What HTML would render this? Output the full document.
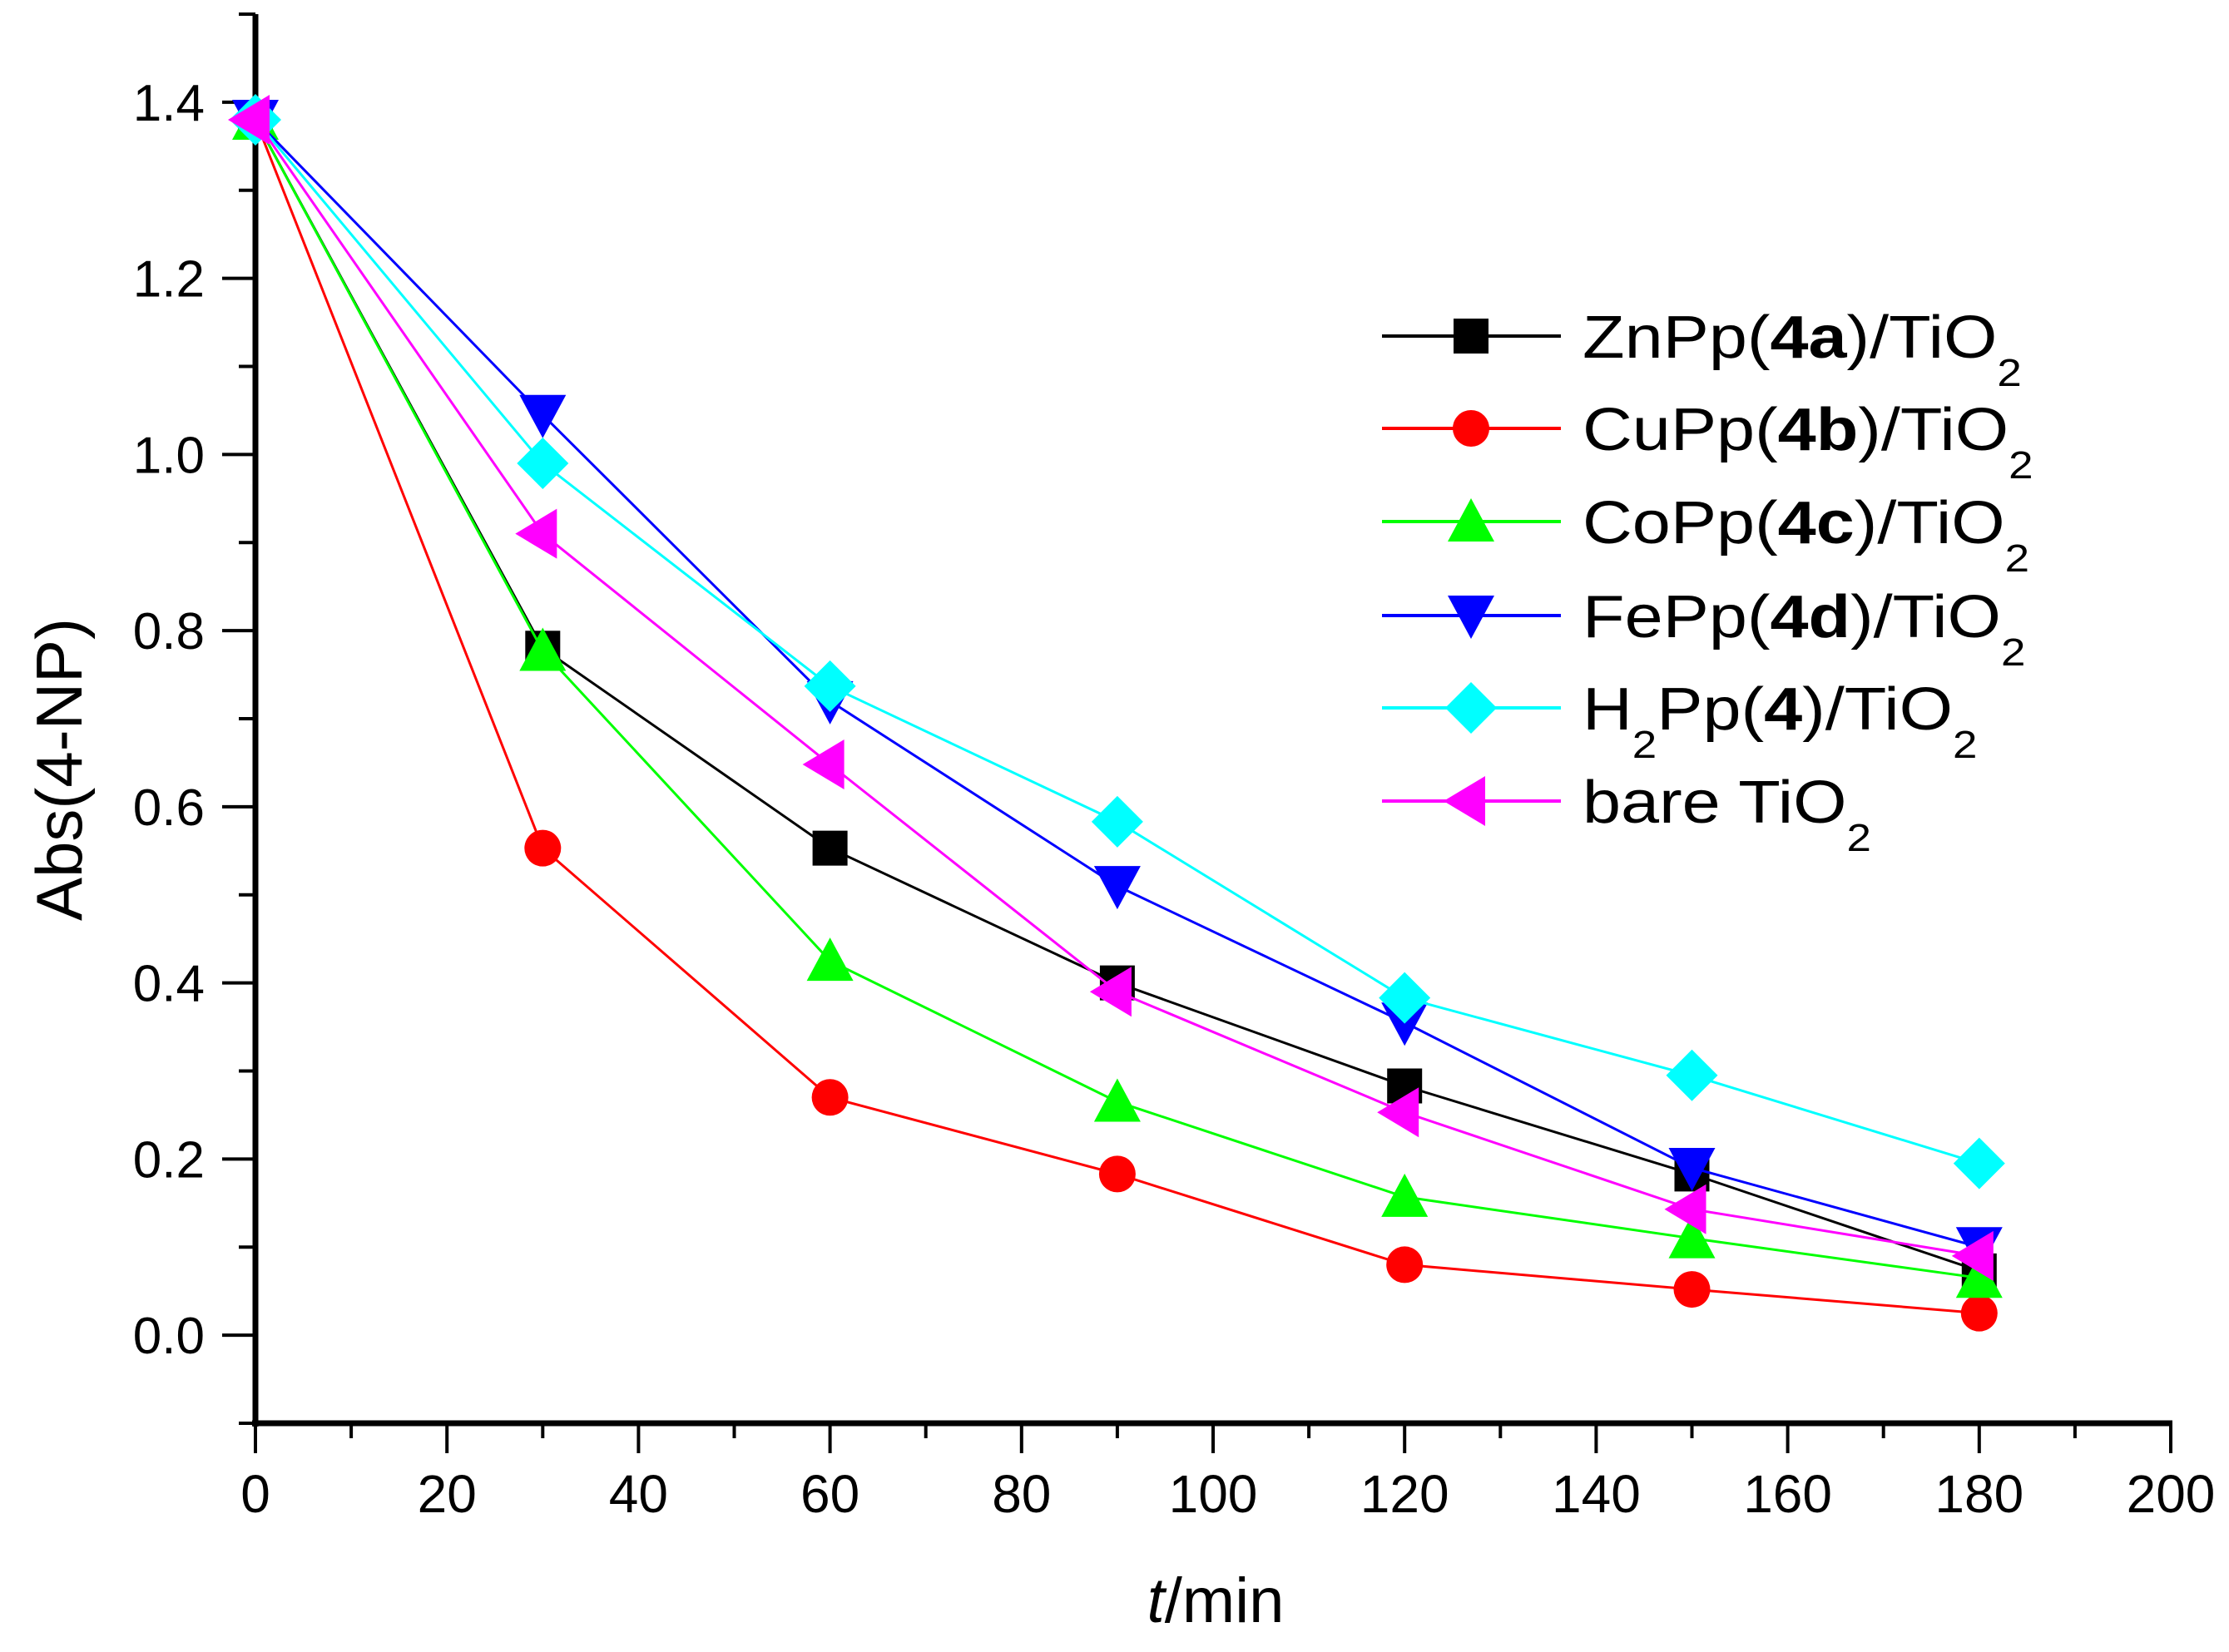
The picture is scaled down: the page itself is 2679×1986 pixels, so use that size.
<!DOCTYPE html>
<html><head><meta charset="utf-8"><style>
html,body{margin:0;padding:0;background:#fff;}
svg{display:block;font-family:"Liberation Sans",sans-serif;}
</style></head><body>
<svg id="chart" width="2679" height="1986" viewBox="0 0 2679 1986" xmlns="http://www.w3.org/2000/svg">
<rect width="2679" height="1986" fill="#fff"/>
<g id="axes"></g>
<g id="series"></g>
<g id="legend"></g>
<text x="0" y="0" font-size="78" text-anchor="middle" transform="translate(98,925) rotate(-90)">Abs(4-NP)</text>
<text x="1461" y="1950" font-size="76" text-anchor="middle"><tspan font-style="italic">t</tspan>/min</text>
</svg>
<script>
const times = [0, 30, 60, 90, 120, 150, 180];
const znValues = [1.38, 0.78, 0.553, 0.40, 0.283, 0.183, 0.073];
const cuValues = [1.38, 0.553, 0.27, 0.183, 0.08, 0.052, 0.025];
const coValues = [1.38, 0.777, 0.425, 0.265, 0.157, 0.11, 0.065];
const feValues = [1.38, 1.045, 0.72, 0.51, 0.355, 0.19, 0.10];
const h2Values = [1.38, 0.99, 0.737, 0.583, 0.383, 0.295, 0.195];
const bareValues = [1.38, 0.91, 0.648, 0.39, 0.253, 0.143, 0.09];
const xTickLabels = ["0","20","40","60","80","100","120","140","160","180","200"];
const yTickLabels = ["0.0","0.2","0.4","0.6","0.8","1.0","1.2","1.4"];

const NS = "http://www.w3.org/2000/svg";
const X0 = 307, X1 = 2609, Y0 = 1711, Y1 = 17;
const xMin = 0, xMax = 200, yMin = -0.1, yMax = 1.5;
function sx(v){ return X0 + (v - xMin) / (xMax - xMin) * (X1 - X0); }
function sy(v){ return Y0 - (v - yMin) / (yMax - yMin) * (Y0 - Y1); }
function mk(tag, attrs, parent){
  const e = document.createElementNS(NS, tag);
  for (const k in attrs) e.setAttribute(k, attrs[k]);
  parent.appendChild(e);
  return e;
}
const axes = document.getElementById('axes');
let el;
el = mk('line', {x1:X0, y1:Y1, x2:X0, y2:Y0+4, stroke:'#000','stroke-width':7}, axes);


el = mk('line', {x1:X0-4, y1:Y0, x2:X1+2, y2:Y0, stroke:'#000','stroke-width':7}, axes);



for (let v = 0; v <= 200; v += 10) {
  const major = v % 20 === 0;
  el = mk('line', {x1:sx(v), y1:Y0, x2:sx(v), y2:Y0 + (major ? 36 : 18), stroke:'#000','stroke-width':4}, axes);
  
  
}
xTickLabels.forEach(function(t){
  el = mk('text', {x:sx(parseFloat(t)), y:1818, 'font-size':64, 'text-anchor':'middle'}, axes);
  el.textContent = t;
  
  
});
for (let i = -1; i <= 15; i++) {
  const v = i / 10;
  const major = i % 2 === 0;
  el = mk('line', {x1:X0 - (major ? 40 : 20), y1:sy(v), x2:X0, y2:sy(v), stroke:'#000','stroke-width':4}, axes);
  
  
}
yTickLabels.forEach(function(t){
  el = mk('text', {x:246, y:sy(parseFloat(t)) + 22, 'font-size':62, 'text-anchor':'end'}, axes);
  el.textContent = t;
  
  
});

function marker(shape, cx, cy, color, parent){
  let m;
  if (shape === 'square') m = mk('rect', {x:cx-21, y:cy-21, width:42, height:42, fill:color}, parent);
  else if (shape === 'circle') m = mk('ellipse', {cx:cx, cy:cy, rx:22, ry:22, fill:color}, parent);
  else if (shape === 'up') m = mk('polygon', {points:(cx-28)+','+(cy+24)+' '+(cx+28)+','+(cy+24)+' '+cx+','+(cy-28), fill:color}, parent);
  else if (shape === 'down') m = mk('polygon', {points:(cx-28)+','+(cy-24)+' '+(cx+28)+','+(cy-24)+' '+cx+','+(cy+28), fill:color}, parent);
  else if (shape === 'diamond') m = mk('polygon', {points:cx+','+(cy-31)+' '+(cx+31)+','+cy+' '+cx+','+(cy+31)+' '+(cx-31)+','+cy, fill:color}, parent);
  else m = mk('polygon', {points:(cx+17)+','+(cy-30)+' '+(cx+17)+','+(cy+30)+' '+(cx-33)+','+cy, fill:color}, parent);
  return m;
}

const seriesList = [
  {name:'zn', vals:znValues, color:'#000000', shape:'square', label:['ZnPp(','4a',')/TiO']},
  {name:'cu', vals:cuValues, color:'#ff0000', shape:'circle', label:['CuPp(','4b',')/TiO']},
  {name:'co', vals:coValues, color:'#00ff00', shape:'up', label:['CoPp(','4c',')/TiO']},
  {name:'fe', vals:feValues, color:'#0000ff', shape:'down', label:['FePp(','4d',')/TiO']},
  {name:'h2', vals:h2Values, color:'#00ffff', shape:'diamond', label:null},
  {name:'bare', vals:bareValues, color:'#ff00ff', shape:'left', label:null}
];
const sg = document.getElementById('series');
seriesList.forEach(function(s){
  const g = mk('g', {}, sg);
  
  
  const pts = times.map(function(t, i){ return sx(t) + ',' + sy(s.vals[i]); }).join(' ');
  el = mk('polyline', {points:pts, fill:'none', stroke:s.color, 'stroke-width':3}, g);
  
  
  times.forEach(function(t, i){
    el = marker(s.shape, sx(t), sy(s.vals[i]), s.color, g);
    
    
  });
});

const lg = document.getElementById('legend');


const rowsY = [404, 515, 627, 740, 851, 963];
seriesList.forEach(function(s, i){
  const y = rowsY[i];
  const g = mk('g', {}, lg);
  
  
  mk('line', {x1:1661, y1:y, x2:1876, y2:y, stroke:s.color, 'stroke-width':4}, g);
  marker(s.shape, 1768, y, s.color, g);
  const t = mk('text', {x:0, y:0, 'font-size':72, transform:'translate(1902,' + (y + 26) + ') scale(1.15,1)'}, g);
  
  
  function ts(txt, attrs){ const e = mk('tspan', attrs || {}, t); e.textContent = txt; return e; }
  if (s.label) {
    ts(s.label[0]);
    ts(s.label[1], {'font-weight':'bold'});
    ts(s.label[2]);
    ts('2', {'font-size':46, dy:34});
  } else if (s.name === 'h2') {
    ts('H');
    ts('2', {'font-size':46, dy:34});
    ts('Pp(', {dy:-34});
    ts('4', {'font-weight':'bold'});
    ts(')/TiO');
    ts('2', {'font-size':46, dy:34});
  } else {
    ts('bare TiO');
    ts('2', {'font-size':46, dy:34});
  }
});
</script>
</body></html>
